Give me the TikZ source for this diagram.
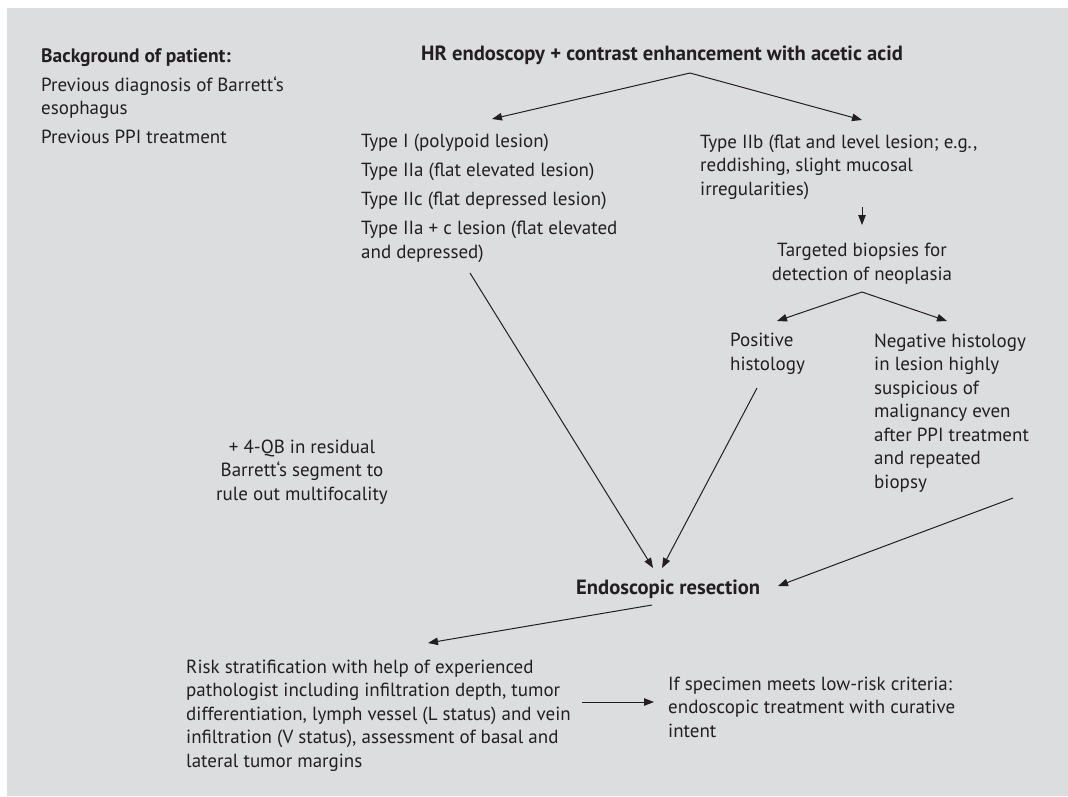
\documentclass[tikz,border=0pt]{standalone}
\usepackage{fontspec}
\setmainfont{PT Sans}
\usetikzlibrary{arrows.meta}
\definecolor{bg}{HTML}{DCDDDF}
\definecolor{ink}{HTML}{231F20}
\begin{document}
\begin{tikzpicture}[x=1pt,y=-1pt,
  txt/.style={anchor=base west, inner sep=0pt, align=left, text=ink,
    font=\fontsize{19}{23.5}\selectfont},
  ctxt/.style={txt, anchor=base, align=center},
  btxt/.style={txt, font=\fontsize{19.5}{23.5}\selectfont\bfseries},
  bbtxt/.style={txt, font=\fontsize{20.6}{23.5}\selectfont\bfseries},
  conn/.style={draw=ink, line width=1pt, -{Triangle[length=10pt,width=7.5pt]}}]
\useasboundingbox (0,0) rectangle (1068,796);
\fill[bg] (7,8) rectangle (1068,796);

% multi-line nodes are placed by the baseline of their last line
\node[btxt] (bghead) at (41,62) {Background of patient:};
\node[txt] (bgtext) at (41,143) {Previous diagnosis of Barrett‘s\\ esophagus\\[5pt] Previous PPI treatment};
\node[bbtxt, anchor=base] (title) at (662,60) {HR endoscopy + contrast enhancement with acetic acid};
\node[txt] (types) at (361,258) {Type I (polypoid lesion)\\[5.5pt] Type IIa (flat elevated lesion)\\[5.5pt] Type IIc (flat depressed lesion)\\[5.5pt] Type IIa + c lesion (flat elevated\\ and depressed)};
\node[txt] (typeIIb) at (700,195) {Type IIb (flat and level lesion; e.g.,\\ reddishing, slight mucosal\\ irregularities)};
\node[ctxt] (targeted) at (862,280) {Targeted biopsies for\\ detection of neoplasia};
\node[txt] (positive) at (730,370) {Positive\\ histology};
\node[txt] (negative) at (874,488) {Negative histology\\ in lesion highly\\ suspicious of\\ malignancy even\\ after PPI treatment\\ and repeated\\ biopsy};
\node[ctxt] (qb) at (302,500) {+ 4-QB in residual\\ Barrett‘s segment to\\ rule out multifocality};
\node[bbtxt] (endo) at (576,594) {Endoscopic resection};
\node[txt] (risk) at (186,767) {Risk stratification with help of experienced\\ pathologist including infiltration depth, tumor\\ differentiation, lymph vessel (L status) and vein\\ infiltration (V status), assessment of basal and\\ lateral tumor margins};
\node[txt] (spec) at (668,737) {If specimen meets low-risk criteria:\\ endoscopic treatment with curative\\ intent};

\coordinate (tapex) at (690,73);
\coordinate (tL) at (492,119);
\coordinate (tR) at (862,120);
\coordinate (iibS) at (862,207);
\coordinate (iibE) at (862,225);
\coordinate (bapex) at (862,292);
\coordinate (bL) at (777,321);
\coordinate (bR) at (947,321);
\coordinate (typesS) at (470,273);
\coordinate (typesE) at (653,568);
\coordinate (posS) at (757,388);
\coordinate (posE) at (662,568);
\coordinate (negS) at (1013,498);
\coordinate (negE) at (778,586);
\coordinate (endoS) at (652,605);
\coordinate (endoE) at (428,643);
\coordinate (riskS) at (582,702);
\coordinate (riskE) at (654,702);

\draw[conn] (tapex) -- (tL);
\draw[conn] (tapex) -- (tR);
\draw[conn] (iibS) -- (iibE);
\draw[conn] (bapex) -- (bL);
\draw[conn] (bapex) -- (bR);
\draw[conn] (typesS) -- (typesE);
\draw[conn] (posS) -- (posE);
\draw[conn] (negS) -- (negE);
\draw[conn] (endoS) -- (endoE);
\draw[conn] (riskS) -- (riskE);
\end{tikzpicture}
\end{document}
